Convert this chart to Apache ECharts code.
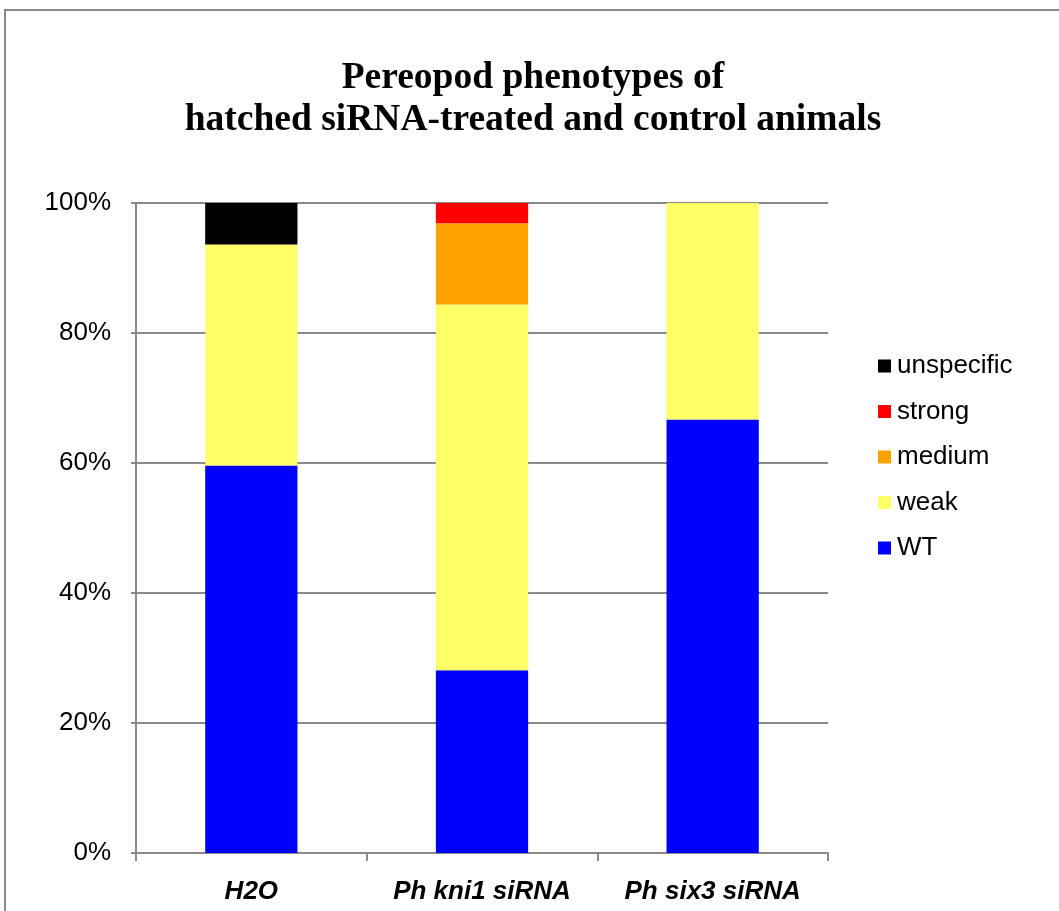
<!DOCTYPE html>
<html>
<head>
<meta charset="utf-8">
<title>Pereopod phenotypes</title>
<script src="https://cdn.jsdelivr.net/npm/echarts@6/dist/echarts.min.js"></script>
<style>
  html, body { margin: 0; padding: 0; background: #fff; }
  #chart { width: 1059px; height: 911px; }
</style>
</head>
<body>
<div id="chart"></div>
<script>
// Treatment groups along the x axis
const categories = ['H2O', 'Ph kni1 siRNA', 'Ph six3 siRNA'];

// Share of animals per phenotype class, in percent of each group
const wt = [59.6, 28.1, 66.7];
const weak = [34.0, 56.3, 33.3];
const medium = [0, 12.5, 0];
const strong = [0, 3.1, 0];
const unspecific = [6.4, 0, 0];

const yTicks = [0, 20, 40, 60, 80, 100];

const seriesDefs = [
  { name: 'WT', data: wt, color: '#0000FF' },
  { name: 'weak', data: weak, color: '#FFFF66' },
  { name: 'medium', data: medium, color: '#FFA200' },
  { name: 'strong', data: strong, color: '#FF0000' },
  { name: 'unspecific', data: unspecific, color: '#000000' }
];

const chart = echarts.init(document.getElementById('chart'), null, { renderer: 'canvas' });

const axisGray = '#8a8a8a';

chart.setOption({
  backgroundColor: '#ffffff',
  animation: false,
  graphic: [{
    type: 'rect',
    shape: { x: 5, y: 10, width: 1200, height: 1000 },
    style: { fill: 'none', stroke: '#8a8a8a', lineWidth: 2 },
    silent: true
  }],
  title: {
    text: 'Pereopod phenotypes of\nhatched siRNA-treated and control animals',
    left: 528,
    textAlign: 'center',
    top: 52,
    textStyle: {
      fontFamily: 'Liberation Serif',
      fontWeight: 'bold',
      fontSize: 37.5,
      lineHeight: 42,
      color: '#000'
    }
  },
  legend: {
    orient: 'vertical',
    left: 878,
    top: 353,
    padding: 0,
    data: ['unspecific', 'strong', 'medium', 'weak', 'WT'],
    icon: 'rect',
    itemWidth: 13,
    itemHeight: 13,
    itemGap: 19.5,
    textStyle: {
      fontFamily: 'Liberation Sans',
      fontSize: 26,
      color: '#000',
      padding: [0, 0, 0, 1]
    }
  },
  grid: {
    left: 136,
    right: 231,
    top: 203,
    bottom: 58,
    containLabel: false
  },
  xAxis: {
    type: 'category',
    data: categories,
    axisLine: { show: true, lineStyle: { color: axisGray, width: 2 } },
    axisTick: { show: true, interval: 0, length: 8, lineStyle: { color: axisGray, width: 2 } },
    axisLabel: {
      interval: 0,
      hideOverlap: false,
      margin: 26,
      fontFamily: 'Liberation Sans',
      fontWeight: 'bold',
      fontStyle: 'italic',
      fontSize: 26,
      color: '#000'
    }
  },
  yAxis: {
    type: 'value',
    min: yTicks[0],
    max: yTicks[yTicks.length - 1],
    interval: yTicks[1] - yTicks[0],
    axisLine: { show: true, lineStyle: { color: axisGray, width: 2 } },
    axisTick: { show: true, length: 5, lineStyle: { color: axisGray, width: 2 } },
    splitLine: { show: true, lineStyle: { color: axisGray, width: 2 } },
    axisLabel: {
      margin: 25,
      formatter: '{value}%',
      fontFamily: 'Liberation Sans',
      fontSize: 26,
      color: '#000'
    }
  },
  series: seriesDefs.map(s => ({
    name: s.name,
    type: 'bar',
    stack: 'total',
    data: s.data,
    barCategoryGap: '60%',
    itemStyle: { color: s.color },
    emphasis: { disabled: true }
  }))
});
</script>
</body>
</html>
